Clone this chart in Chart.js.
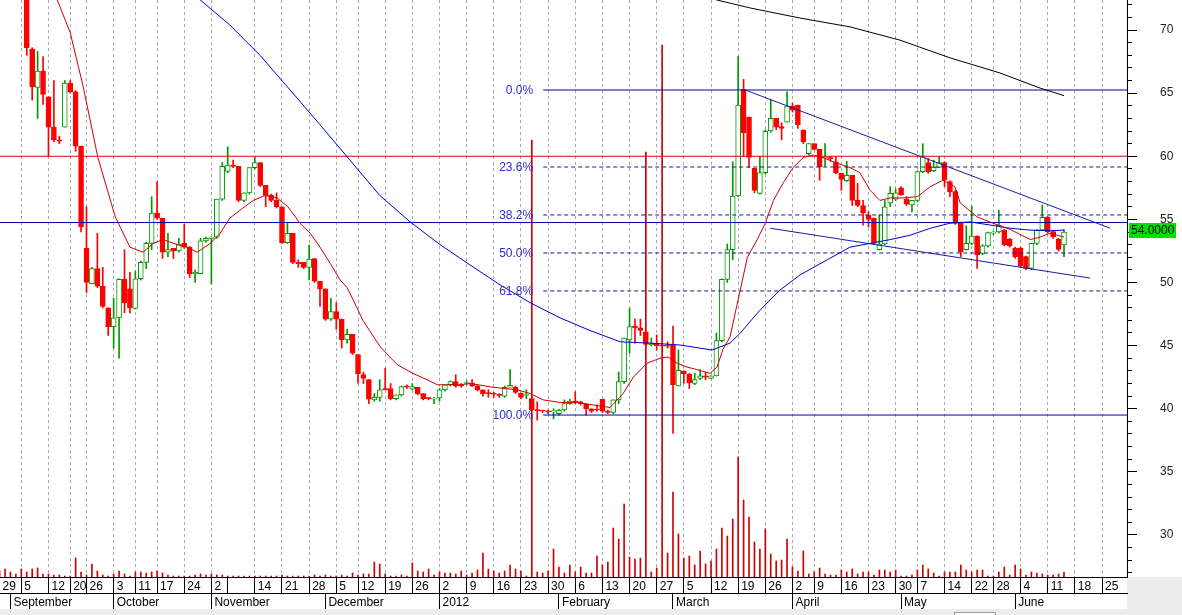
<!DOCTYPE html>
<html>
<head>
<meta charset="utf-8">
<script src="https://cdn.jsdelivr.net/npm/chart.js@4.4.1/dist/chart.umd.min.js"></script>
<style>
  html, body { margin: 0; padding: 0; background: #fff; }
  #wrap { width: 1182px; height: 615px; position: relative; }
</style>
</head>
<body>
<div id="wrap"><canvas id="chart"></canvas></div>
<script>
// one slot per trading day: 0 = 29 Aug 2011 ... 196 = 14 Jun 2012

// ============ PRICES ============
const opens = [
  null,null,null,null,null,73.0,68.5,65.45,66.75,64.7,
  62.3,61.3,62.3,65.8,65.1,60.8,52.7,49.9,51.1,49.7,
  48.0,46.5,47.2,50.25,49.5,47.95,50.3,51.6,53.1,55.5,
  55.1,52.4,52.7,52.5,53.1,52.8,50.7,50.7,53.3,53.5,
  53.6,56.6,58.8,59.3,59.2,56.5,57.1,59.1,59.5,57.7,
  56.9,56.5,56.0,53.15,53.9,51.6,51.6,51.2,51.9,50.1,
  49.5,47.1,47.7,47.1,45.45,45.9,44.3,42.7,42.3,40.7,
  40.9,41.6,41.6,40.8,41.1,41.8,41.55,41.7,41.2,40.85,
  40.75,40.85,41.5,41.9,42.15,41.9,42.0,42.05,41.8,41.5,
  41.25,41.2,41.15,41.0,41.7,41.7,41.25,41.05,40.8,39.9,
  39.85,39.8,39.75,39.6,39.9,40.4,40.6,40.55,40.35,40.0,
  39.95,40.75,39.8,39.7,40.7,42.15,45.45,46.55,46.4,46.1,
  45.05,45.1,45.05,45.0,45.05,41.8,43.0,42.75,42.0,42.4,
  42.6,42.4,42.6,45.4,50.25,52.6,56.85,65.3,63.1,59.04,
  57.06,58.7,62.0,63.0,62.35,62.7,63.97,64.06,62.08,60.2,
  61.0,60.55,59.85,59.9,59.56,58.65,58.07,58.5,56.5,56.1,
  55.35,55.08,52.6,53.05,56.3,56.6,57.5,56.6,56.14,56.5,
  58.78,59.5,58.86,59.12,59.5,58.0,57.2,54.7,52.6,53.1,
  53.68,52.3,52.9,53.9,54.0,54.16,53.42,52.7,52.7,52.05,
  51.12,53.1,54.16,55.16,54.03,53.42,52.97
];
const highs = [
  null,null,null,null,null,73.5,68.6,68.3,67.9,64.7,
  66.0,61.6,66.0,66.0,65.2,60.8,56.0,51.2,53.9,51.2,
  48.0,48.75,50.3,52.6,50.8,50.9,51.7,53.2,56.8,58.0,
  55.1,53.9,52.7,53.5,54.6,52.85,51.0,53.5,53.6,53.6,
  56.6,59.5,60.76,59.7,59.2,57.1,59.1,59.97,59.5,57.7,
  57.0,57.1,56.0,54.7,53.9,51.8,51.6,52.97,51.9,50.1,
  49.5,48.75,48.4,47.1,46.3,45.9,44.3,42.9,42.3,41.2,
  42.3,43.2,42.0,41.1,41.8,41.9,42.0,41.7,41.2,40.9,
  40.9,41.6,41.9,42.2,42.7,42.0,42.2,42.3,41.9,41.5,
  41.5,41.3,41.2,41.8,43.1,41.8,41.25,41.5,40.9,40.55,
  39.9,39.9,40.0,39.95,40.7,40.75,41.35,40.6,40.4,40.0,
  40.3,40.75,39.9,40.7,42.9,45.6,47.95,47.1,47.1,46.1,
  45.6,45.85,45.1,45.3,46.55,44.65,43.0,42.8,42.8,43.1,
  42.9,42.6,46.0,50.3,53.05,59.56,67.9,66.1,63.1,59.04,
  60.0,62.1,64.5,63.0,62.65,65.1,64.2,64.06,62.1,61.0,
  61.0,60.55,61.0,60.0,60.0,58.65,59.6,58.5,57.85,56.5,
  55.6,55.1,55.35,56.5,57.6,57.4,57.6,56.8,56.5,58.8,
  61.0,59.83,59.7,59.97,59.57,58.05,57.3,54.8,54.5,56.06,
  53.7,53.0,54.0,54.05,55.74,54.2,53.5,52.8,52.8,52.1,
  53.1,54.2,56.14,55.27,54.1,53.5,54.2
];
const lows = [
  null,null,null,null,null,68.0,64.45,63.0,64.1,60.0,
  61.15,61.0,62.3,65.0,60.4,54.0,49.2,49.9,49.6,48.0,
  45.8,44.8,44.0,47.6,47.6,47.9,50.2,51.1,52.6,55.0,
  51.9,52.05,51.9,52.4,52.7,50.4,50.0,50.7,53.2,49.9,
  53.5,56.5,58.7,59.1,56.4,56.4,57.0,59.0,57.6,56.0,
  56.4,55.9,53.1,53.1,51.5,51.2,51.1,50.2,50.0,48.1,
  47.0,47.0,46.3,44.8,45.2,44.3,42.0,42.0,40.4,40.6,
  40.6,41.5,40.7,40.7,41.0,41.6,41.5,41.1,40.7,40.7,
  40.4,40.6,41.4,41.8,41.7,41.7,41.9,41.75,41.4,41.0,
  40.9,40.9,40.9,40.9,41.7,41.2,40.8,40.8,39.85,39.1,
  39.7,39.6,39.2,39.5,39.8,40.35,40.4,40.3,39.5,39.7,
  39.8,39.7,39.6,39.6,40.4,42.0,44.4,45.2,45.8,45.0,
  44.97,44.65,44.9,44.8,38.05,41.8,42.0,41.6,41.9,42.3,
  42.3,42.4,42.6,45.3,50.0,51.8,56.8,59.97,59.1,57.1,
  57.0,58.6,61.9,62.1,61.3,62.7,63.5,62.2,61.0,60.1,
  60.5,58.1,59.2,59.6,58.6,57.3,58.0,56.1,56.0,54.55,
  54.4,53.0,52.57,53.0,56.0,56.5,56.9,56.1,55.6,56.4,
  58.7,58.65,58.78,59.1,57.6,56.8,54.6,52.05,52.57,53.0,
  51.12,52.2,52.8,53.8,53.9,52.9,52.8,51.9,51.2,51.0,
  51.0,53.0,54.1,53.9,53.5,52.5,52.05
];
const closes = [
  null,null,null,null,null,68.6,65.5,66.75,64.9,62.3,
  61.3,61.2,65.8,65.1,60.8,54.4,50.0,51.1,49.7,48.1,
  46.5,47.2,50.25,48.4,48.0,50.3,51.6,53.1,55.5,55.1,
  52.4,52.6,52.5,53.05,52.8,50.7,50.8,53.3,53.5,53.6,
  56.6,59.2,59.3,59.2,56.5,57.1,59.1,59.5,57.7,56.9,
  56.5,56.0,53.15,53.9,51.6,51.5,51.2,51.85,50.1,49.5,
  47.1,47.7,47.1,45.45,45.9,44.4,42.75,42.4,40.75,40.9,
  41.5,41.5,40.8,41.1,41.75,41.7,41.75,41.2,40.8,40.8,
  40.85,41.5,41.9,42.15,41.8,41.8,42.05,41.8,41.5,41.2,
  41.2,41.15,41.05,41.7,41.85,41.3,40.9,41.1,39.9,39.85,
  39.8,39.75,39.8,39.9,40.4,40.6,40.5,40.4,40.0,39.8,
  39.9,39.8,39.7,40.7,42.15,45.6,46.5,46.4,46.2,45.1,
  45.2,45.0,44.95,44.95,41.9,43.05,42.75,42.05,42.3,42.6,
  42.5,42.6,45.4,50.25,52.6,56.85,64.06,61.87,59.9,57.3,
  58.7,61.97,63.0,62.3,62.2,63.97,63.66,62.5,61.15,61.0,
  60.55,59.17,59.95,59.8,58.7,58.17,58.5,56.5,56.1,55.5,
  55.0,53.1,53.05,56.0,57.06,57.1,56.95,56.2,56.5,58.78,
  59.97,58.78,59.12,59.5,58.12,57.2,54.7,52.44,53.1,53.68,
  52.18,52.9,53.95,54.0,54.55,52.97,52.89,52.05,51.3,51.12,
  53.1,54.16,55.16,54.03,53.63,52.63,54.0
];
const volume = [
  6,8,5,3,8,5,8,9,3,3, 2,2,1,1,19,5,2,13,6,2,
  1,3,6,3,1,5,5,4,5,6, 4,2,1,1,1,1,2,3,2,3,
  2,2,1,1,1,1,1,1,1,1, 1,1,2,1,1,1,1,1,2,1,
  2,1,1,2,1,4,2,3,3,15, 13,3,1,1,2,1,14,6,5,8,
  2,5,4,4,3,6,2,4,7,24, 8,6,4,6,12,8,6,1,437,5,
  4,6,28,10,4,12,5,10,4,4, 21,12,15,49,38,73,20,18,19,425,
  5,9,532,24,85,43,19,21,12,26, 13,16,28,49,41,58,120,77,60,35,
  28,48,23,16,17,38,10,6,26,3, 5,9,3,2,2,7,5,8,3,5,
  5,2,7,7,5,7,1,1,2,7, 12,8,4,1,5,5,5,12,7,5,
  7,7,1,1,5,10,2,12,8,2, 5,4,3,2,2,3,5
];

// moving averages and drawn lines, as [slot, price]
const redMA = [
  [10.6,72.4],[13.0,69.8],[15.4,65.5],[18.1,59.9],[21.3,55.2],[24.0,52.8],[26.4,52.4],[28.3,53.1],
  [30.1,53.4],[32.7,53.0],[34.5,52.8],[36.4,52.4],[38.8,53.1],[40.6,53.9],[42.4,55.1],[44.8,55.9],
  [46.7,56.5],[48.9,56.9],[51.1,56.7],[53.1,56.0],[55.3,54.7],[57.2,53.9],[59.0,52.8],[60.9,51.5],
  [62.7,50.2],[64.0,49.6],[66.9,47.0],[70.1,44.9],[73.2,43.5],[76.1,42.8],[78.7,42.3],[80.6,41.9],
  [84.8,41.9],[86.6,42.0],[90.9,41.7],[95.3,41.5],[97.7,41.2],[100.1,40.7],[103.2,40.5],[106.3,40.5],
  [109.3,40.3],[112.4,40.1],[114.8,41.2],[116.7,42.5],[119.2,43.6],[121.6,44.0],[123.1,44.1],[124.8,43.6],
  [126.6,43.3],[128.4,43.1],[130.8,42.8],[132.1,43.3],[133.2,44.7],[134.5,45.7],[137.7,52.0],[139.5,53.4],
  [141.0,54.7],[142.5,56.5],[144.3,57.9],[146.1,59.1],[148.0,59.9],[149.8,60.1],[151.6,59.9],[153.9,59.5],
  [156.6,59.1],[158.4,58.7],[160.3,57.3],[162.1,56.5],[164.0,56.7],[166.4,56.7],[169.0,56.8],[171.4,57.6],
  [173.7,58.1],[175.9,57.6],[176.9,56.3],[180.0,55.2],[182.9,54.7],[186.1,54.2],[189.8,53.4],[191.6,53.6],
  [193.4,53.9],[196.0,53.6]
];
const blueMA = [
  [36.9,72.4],[42.4,70.4],[47.95,68.0],[53.5,65.25],[59.0,62.5],[64.5,59.7],[70.0,56.9],[75.6,54.8],
  [81.1,53.0],[86.6,51.4],[92.2,49.8],[97.7,48.4],[103.2,47.2],[108.7,46.2],[114.3,45.3],[119.8,45.2],
  [125.3,45.05],[131.2,44.65],[134.5,45.2],[136.4,46.0],[140.0,47.8],[143.7,49.4],[147.4,50.6],[152.4,51.8],
  [156.6,52.8],[160.3,53.1],[164.0,53.4],[167.7,53.75],[171.4,54.3],[175.0,54.7],[178.7,54.8],[182.4,54.55],
  [186.1,54.3],[189.8,54.15],[193.4,54.1],[196.0,54.15]
];
const blackMA = [
  [131.9,72.4],[138.2,71.75],[147.4,70.95],[156.6,70.25],[165.8,69.2],[175.0,67.8],[184.2,66.6],
  [191.6,65.4],[196.0,64.8]
];
const upperTrend = [[137.3,65.25],[204.5,54.3]];
const lowerTrend = [[141.9,54.3],[200.8,50.35]];
const redLevel = 60.0;
const blueLevel = 54.75;

// fibonacci retracement
const fibStart = 100.1;
const fibPrices = [65.25, 59.15, 55.35, 52.34, 49.33, 39.5];
const fibLabels = ['0.0%', '23.6%', '38.2%', '50.0%', '61.8%', '100.0%'];

// ============ AXES ============
const dayTicks = [
  [0,'29'],[4,'5'],[9,'12'],[13,'20'],[16,'26'],[21,'3'],[25,'11'],[29,'17'],[34,'24'],[39,'2'],
  [42,''],[47,'14'],[52,'21'],[57,'28'],[62,'5'],[66,'12'],[71,'19'],[76,'26'],[81,'2'],[86,'9'],
  [91,'16'],[96,'23'],[101,'30'],[106,'6'],[111,'13'],[116,'20'],[121,'27'],[126,'5'],[131,'12'],[136,'19'],
  [141,'26'],[146,'2'],[150,'9'],[155,'16'],[160,'23'],[165,'30'],[169,'7'],[174,'14'],[179,'22'],[183,'28'],
  [188,'4'],[193,'11'],[198,'18'],[203,'25']
];
const monthTicks = [
  [2,'September'],[21,'October'],[39,'November'],[60,'December'],[81,'2012'],
  [103,'February'],[124,'March'],[146,'April'],[166,'May'],[187,'June']
];
const priceTicks = [30, 35, 40, 45, 50, 55, 60, 65, 70];
const minorTicks = [27,28,29,30,31,32,33,34,35,36,37,38,39,40,41,42,43,44,45,46,47,48,49,
  50,51,52,53,54,55,56,57,58,59,60,61,62,63,64,65,66,67,68,69,70,71,72];

const X_MIN = 0.074, X_MAX = 207.6;
const Y_MIN = 26.67, Y_MAX = 72.38;
const FONT = '"Liberation Sans", Arial, sans-serif';
const GREEN = '#009a00', RED = '#ff0000';

const slots = opens.map((_, i) => i);
const dayLabel = Object.fromEntries(dayTicks);
const monthLabel = Object.fromEntries(monthTicks);
const up = i => closes[i] >= opens[i];
const pts = arr => arr.map(p => ({ x: p[0], y: p[1] }));

const bodies = opens.map((o, i) => (o == null ? null : [o, closes[i]]));
const wicks = lows.map((l, i) => (l == null ? null : [l, highs[i]]));

function line(data, color, dash) {
  return {
    type: 'line', data, borderColor: color, borderWidth: 1, borderDash: dash || [],
    pointRadius: 0, tension: 0, xAxisID: 'x', yAxisID: 'y', order: 1
  };
}

const lineSets = [
  line(pts(redMA), '#d00000'),
  line(pts(blueMA), '#0000d0'),
  line(pts(blackMA), '#000000'),
  line(pts(upperTrend), '#1a1aa8'),
  line(pts(lowerTrend), '#1a1aa8'),
  line([{ x: X_MIN, y: redLevel }, { x: X_MAX, y: redLevel }], '#e00000'),
  line([{ x: X_MIN, y: blueLevel }, { x: X_MAX, y: blueLevel }], '#0000b0')
];
fibPrices.forEach((p, i) => {
  const solid = i === 0 || i === fibPrices.length - 1;
  lineSets.push(line([{ x: fibStart, y: p }, { x: X_MAX, y: p }], solid ? '#0000b0' : '#1a1a90', solid ? [] : [4, 3]));
});

// ============ PLUGINS ============
const frame = {
  id: 'frame',
  beforeDraw(chart) {
    const { ctx, width, height, chartArea: a } = chart;
    ctx.save();
    ctx.fillStyle = '#ffffff';
    ctx.fillRect(0, 0, width, height);
    ctx.fillStyle = '#ececec';
    ctx.fillRect(a.right, a.bottom, width - a.right, height - a.bottom);
    ctx.fillRect(0, height - 6, width, 6);
    // scrollbar thumb of the host window
    ctx.fillStyle = '#ffffff';
    ctx.strokeStyle = '#9a9a9a';
    ctx.fillRect(954, height - 3, 42, 3);
    ctx.strokeRect(954.5, height - 2.5, 41, 4);
    ctx.restore();
  }
};

const fibText = {
  id: 'fibText',
  afterDatasetsDraw(chart) {
    const { ctx, scales: { x, y } } = chart;
    ctx.save();
    ctx.font = '12px ' + FONT;
    ctx.fillStyle = '#2d2dd2';
    ctx.textAlign = 'right';
    ctx.textBaseline = 'middle';
    const xr = x.getPixelForValue(fibStart) - 10;
    fibPrices.forEach((p, i) => ctx.fillText(fibLabels[i], xr, y.getPixelForValue(p) + 1));
    ctx.restore();
  }
};

const lastTag = {
  id: 'lastTag',
  afterDraw(chart) {
    const { ctx, chartArea: a, scales: { y } } = chart;
    const last = closes[closes.length - 1];
    const py = Math.round(y.getPixelForValue(last)) - 2;
    ctx.save();
    ctx.fillStyle = '#00e000';
    ctx.fillRect(a.right + 2, py - 7, 47, 15);
    ctx.fillStyle = '#000000';
    ctx.font = '12px ' + FONT;
    ctx.textBaseline = 'middle';
    ctx.fillText(last.toFixed(4), a.right + 4, py + 1);
    ctx.restore();
  }
};

// ============ CHART ============
new Chart(document.getElementById('chart'), {
  type: 'bar',
  data: {
    labels: slots,
    datasets: [
      ...lineSets,
      {
        type: 'bar', data: bodies, xAxisID: 'x', yAxisID: 'y', grouped: false,
        barThickness: 5, minBarLength: 1, borderWidth: 1, borderSkipped: false,
        backgroundColor: c => (up(c.dataIndex) ? '#ffffff' : RED),
        borderColor: c => (up(c.dataIndex) ? GREEN : RED),
        order: 2
      },
      {
        type: 'bar', data: wicks, xAxisID: 'x', yAxisID: 'y', grouped: false,
        barThickness: 1, borderWidth: 0,
        backgroundColor: c => (up(c.dataIndex) ? GREEN : RED),
        order: 3
      },
      {
        type: 'bar', data: volume, xAxisID: 'x', yAxisID: 'yv', grouped: false,
        barThickness: 1, borderWidth: 0, backgroundColor: '#d00000',
        order: 4
      }
    ]
  },
  options: {
    responsive: true,
    maintainAspectRatio: false,
    animation: false,
    events: [],
    layout: { padding: { left: 0, right: 0, top: 0, bottom: 6 } },
    plugins: { legend: { display: false }, tooltip: { enabled: false } },
    scales: {
      x: {
        type: 'linear', position: 'bottom', weight: 0, min: X_MIN, max: X_MAX, offset: false,
        afterBuildTicks: s => { s.ticks = dayTicks.map(t => ({ value: t[0] })); },
        afterFit: s => { s.height = 16; s.paddingLeft = 0; s.paddingRight = 0; },
        ticks: {
          autoSkip: false, maxRotation: 0, minRotation: 0, align: 'start', padding: -14, labelOffset: 3,
          color: '#000', font: { family: FONT, size: 12 },
          callback: v => dayLabel[v] ?? ''
        },
        grid: {
          offset: false, drawOnChartArea: true, drawTicks: true, tickLength: 16,
          color: c => (c.tick && dayLabel[c.tick.value] ? '#a8a8a8' : 'rgba(0,0,0,0)'),
          tickColor: '#000'
        },
        border: { display: true, color: '#000', dash: [3, 3] }
      },
      x2: {
        type: 'linear', position: 'bottom', weight: 1, min: X_MIN, max: X_MAX, offset: false,
        afterBuildTicks: s => { s.ticks = monthTicks.map(t => ({ value: t[0] })); },
        afterFit: s => { s.height = 16; s.paddingLeft = 0; s.paddingRight = 0; },
        ticks: {
          autoSkip: false, maxRotation: 0, minRotation: 0, align: 'start', padding: -14, labelOffset: 3,
          color: '#000', font: { family: FONT, size: 12 },
          callback: v => monthLabel[v] ?? ''
        },
        grid: { offset: false, drawOnChartArea: false, drawTicks: true, tickLength: 16, tickColor: '#000' },
        border: { display: true, color: '#000' }
      },
      y: {
        type: 'linear', position: 'right', weight: 1, min: Y_MIN, max: Y_MAX,
        afterBuildTicks: s => { s.ticks = priceTicks.map(v => ({ value: v })); },
        afterFit: s => { s.width = 55; s.paddingTop = 0; s.paddingBottom = 0; },
        ticks: { padding: 23, color: '#222', font: { family: FONT, size: 12 } },
        grid: { drawOnChartArea: false, tickLength: 10, tickColor: '#000' },
        border: { display: true, color: '#000' }
      },
      ym: {
        type: 'linear', position: 'right', weight: 0, min: Y_MIN, max: Y_MAX,
        afterBuildTicks: s => { s.ticks = minorTicks.map(v => ({ value: v })); },
        afterFit: s => { s.width = 0; s.paddingTop = 0; s.paddingBottom = 0; },
        ticks: { display: false },
        grid: { drawOnChartArea: false, tickLength: 5, tickColor: '#000' },
        border: { display: true, color: '#000' }
      },
      yv: { type: 'linear', display: false, min: 0, max: 577 }
    }
  },
  plugins: [frame, fibText, lastTag]
});
</script>
</body>
</html>
